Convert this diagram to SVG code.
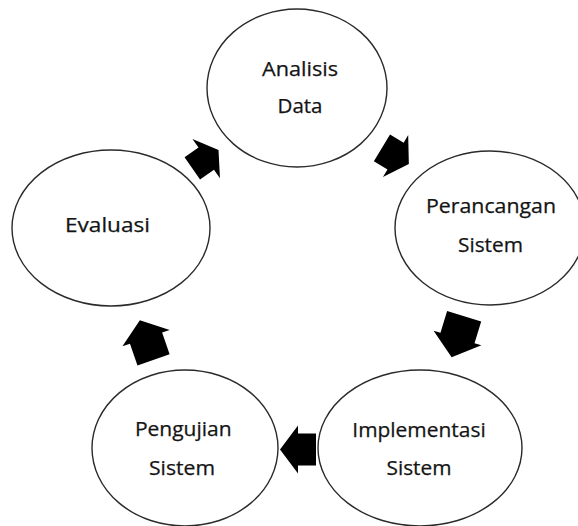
<svg xmlns="http://www.w3.org/2000/svg" width="578" height="526" viewBox="0 0 578 526">
<style>
.node ellipse{fill:#fff;stroke:#2a2a2a;stroke-width:1.4}
.node text{font-family:"Open Sans","Liberation Sans",sans-serif;font-size:19.5px;fill:#141414;stroke:#141414;stroke-width:0.25;text-anchor:middle}
.arrow{fill:#000;stroke:none}
</style>
<rect width="578" height="526" fill="#fff"/>
<g id="analisis-data" class="node">
<ellipse cx="297" cy="88" rx="90" ry="79"/>
<text x="300" y="76" textLength="76" lengthAdjust="spacingAndGlyphs">Analisis</text>
<text x="300" y="113.3" textLength="45" lengthAdjust="spacingAndGlyphs">Data</text>
</g>
<g id="perancangan-sistem" class="node">
<ellipse cx="490" cy="228" rx="95" ry="77"/>
<text x="491" y="213.3" textLength="130" lengthAdjust="spacingAndGlyphs">Perancangan</text>
<text x="490.5" y="251.7" textLength="65" lengthAdjust="spacingAndGlyphs">Sistem</text>
</g>
<g id="evaluasi" class="node">
<ellipse cx="111" cy="228" rx="99" ry="78"/>
<text x="107.5" y="231.7" textLength="85" lengthAdjust="spacingAndGlyphs">Evaluasi</text>
</g>
<g id="pengujian-sistem" class="node">
<ellipse cx="185" cy="448" rx="93" ry="78"/>
<text x="183.3" y="436" textLength="96.7" lengthAdjust="spacingAndGlyphs">Pengujian</text>
<text x="182" y="475" textLength="66" lengthAdjust="spacingAndGlyphs">Sistem</text>
</g>
<g id="implementasi-sistem" class="node">
<ellipse cx="420" cy="448" rx="102" ry="78"/>
<text x="419" y="437.3" textLength="133.4" lengthAdjust="spacingAndGlyphs">Implementasi</text>
<text x="419" y="475" textLength="65" lengthAdjust="spacingAndGlyphs">Sistem</text>
</g>
<g id="connectors">
<polygon class="arrow" transform="translate(205.4,159.2) rotate(-35)" points="16,0 1,-24 1,-13.5 -16,-13.5 -16,13.5 1,13.5 1,24"/>
<polygon class="arrow" transform="translate(395.4,156) rotate(31)" points="15.7,0 0.2,-24.5 0.2,-15.7 -15.7,-15.7 -15.7,15.7 0.2,15.7 0.2,24.5"/>
<polygon class="arrow" transform="translate(457.9,336.7) rotate(107)" points="21.4,0 1.4,-25 1.4,-17.8 -21.4,-17.8 -21.4,17.8 1.4,17.8 1.4,25"/>
<polygon class="arrow" transform="translate(298,449.5) rotate(180)" points="18,0 0,-24 0,-16 -18,-16 -18,16 0,16 0,24"/>
<polygon class="arrow" transform="translate(146.7,340) rotate(-109)" points="21,0 2,-25 2,-17 -21,-17 -21,17 2,17 2,25"/>
</g>
</svg>
